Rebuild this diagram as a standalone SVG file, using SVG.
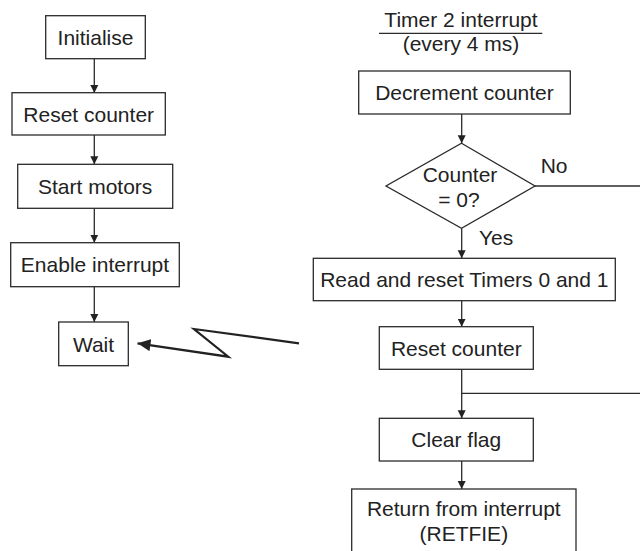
<svg xmlns="http://www.w3.org/2000/svg" width="640" height="551" viewBox="0 0 640 551">
<style>
.box{fill:#fff;stroke:#2b2b2b;stroke-width:1.3}
.t{font-family:"Liberation Sans",Arial,sans-serif;font-size:21px;fill:#222;text-anchor:middle}
.l{font-family:"Liberation Sans",Arial,sans-serif;font-size:21px;fill:#222}
.c{fill:none;stroke:#2b2b2b;stroke-width:1.3}
</style>
<defs>
<marker id="ah" markerWidth="9" markerHeight="9" refX="8" refY="4.5" orient="auto" markerUnits="userSpaceOnUse">
<path d="M0,0.5 L8,4.5 L0,8.5 Z" fill="#222"/>
</marker>
<marker id="bh" markerWidth="14" markerHeight="13" refX="13" refY="6.5" orient="auto" markerUnits="userSpaceOnUse">
<path d="M0,0.5 L13,6.5 L0,12.5 Z" fill="#222"/>
</marker>
</defs>
<g id="connectors">
<line class="c" x1="94.3" y1="58.7" x2="94.3" y2="93" marker-end="url(#ah)"/>
<line class="c" x1="94.3" y1="135" x2="94.3" y2="164.3" marker-end="url(#ah)"/>
<line class="c" x1="94.3" y1="208.3" x2="94.3" y2="242.7" marker-end="url(#ah)"/>
<line class="c" x1="94.3" y1="286.7" x2="94.3" y2="322" marker-end="url(#ah)"/>
<polyline fill="none" stroke="#222" stroke-width="2.2" stroke-linejoin="miter" points="299,343.3 194,329 228.3,356.7 137.5,343.3" marker-end="url(#bh)"/>
<line class="c" x1="461.7" y1="114" x2="461.7" y2="143.3" marker-end="url(#ah)"/>
<line class="c" x1="535" y1="186" x2="640" y2="186"/>
<line class="c" x1="461.7" y1="228.3" x2="461.7" y2="258.3" marker-end="url(#ah)"/>
<line class="c" x1="461.7" y1="300.7" x2="461.7" y2="326.7" marker-end="url(#ah)"/>
<line class="c" x1="461.7" y1="369.3" x2="461.7" y2="418.3" marker-end="url(#ah)"/>
<line class="c" x1="461.7" y1="393.3" x2="640" y2="393.3"/>
<line class="c" x1="461.7" y1="461" x2="461.7" y2="489" marker-end="url(#ah)"/>
</g>
<g id="initialise"><rect class="box" x="45.7" y="15.7" width="99.6" height="43"/><text class="t" x="95.5" y="45">Initialise</text></g>
<g id="reset-counter-left"><rect class="box" x="12" y="92.7" width="153.3" height="42.3"/><text class="t" x="88.7" y="121.5">Reset counter</text></g>
<g id="start-motors"><rect class="box" x="17.7" y="164.3" width="155" height="44"/><text class="t" x="95.2" y="194">Start motors</text></g>
<g id="enable-interrupt"><rect class="box" x="10.7" y="242.7" width="168.6" height="44"/><text class="t" x="95" y="272">Enable interrupt</text></g>
<g id="wait"><rect class="box" x="58.7" y="322" width="69.6" height="43.7"/><text class="t" x="93.5" y="351.5">Wait</text></g>
<g id="title"><text class="t" x="461" y="27">Timer 2 interrupt</text><line class="c" x1="379" y1="33.3" x2="542.3" y2="33.3"/><text class="t" x="461" y="51">(every 4 ms)</text></g>
<g id="decrement-counter"><rect class="box" x="358.7" y="71" width="211.6" height="43"/><text class="t" x="464.5" y="100">Decrement counter</text></g>
<g id="decision"><polygon class="box" points="461.5,143.3 535,186 461.5,228.3 386,186"/><text class="t" x="460" y="181.7">Counter</text><text class="t" x="459" y="206.7">= 0?</text></g>
<text class="l" x="540.7" y="173.3">No</text>
<text class="l" x="479" y="245">Yes</text>
<g id="read-reset-timers"><rect class="box" x="313.3" y="258.3" width="302" height="42.4"/><text class="t" x="464.3" y="287">Read and reset Timers 0 and 1</text></g>
<g id="reset-counter-right"><rect class="box" x="379.3" y="326.7" width="154" height="42.6"/><text class="t" x="456.3" y="355.5">Reset counter</text></g>
<g id="clear-flag"><rect class="box" x="379.3" y="418.3" width="154" height="42.7"/><text class="t" x="456.3" y="447">Clear flag</text></g>
<g id="return"><rect class="box" x="351.7" y="489" width="224.3" height="75"/><text class="t" x="463.8" y="516">Return from interrupt</text><text class="t" x="463.8" y="541">(RETFIE)</text></g>
</svg>
